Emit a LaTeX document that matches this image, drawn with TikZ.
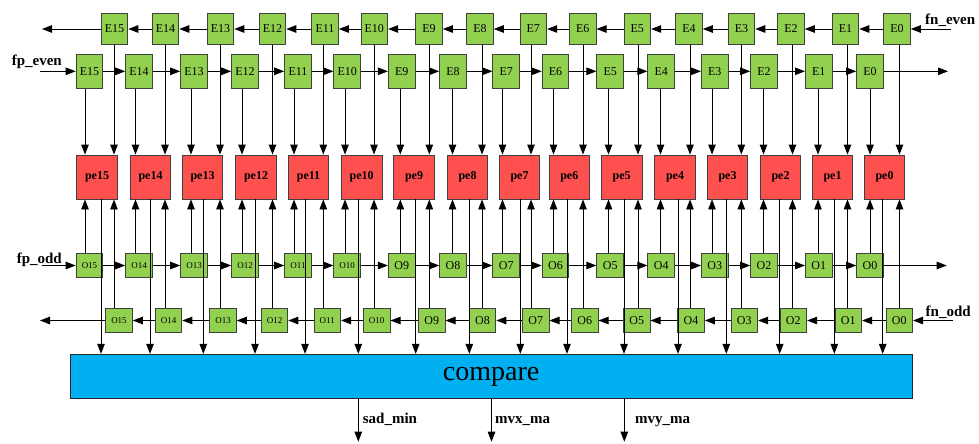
\documentclass[tikz,border=0pt]{standalone}
\usepackage{fontspec}
\setmainfont{Liberation Serif}
\usetikzlibrary{arrows.meta}
\definecolor{boxgreen}{RGB}{146,208,80}
\definecolor{pered}{RGB}{255,80,80}
\definecolor{cmpblue}{RGB}{0,176,240}
\newcommand\olab[1]{\ifnum#1>9 {\fontsize{9}{10}\selectfont O#1}\else O#1\fi}
\begin{document}
\begin{tikzpicture}[x=1pt,y=-1pt,
 ebox/.style={draw=black!75, line width=0.9pt, fill=boxgreen, minimum width=26.7pt, inner sep=0pt, font=\fontsize{12}{14}\selectfont},
 eup/.style={ebox, minimum height=30.7pt},
 elow/.style={ebox, minimum height=34pt},
 obox/.style={ebox, minimum height=24.4pt},
 pebox/.style={draw=black!75, line width=0.9pt, fill=pered, minimum width=40.7pt, minimum height=44pt, inner sep=0pt, font=\fontsize{12}{14}\selectfont\bfseries},
 cmpbox/.style={draw=black!85, line width=0.9pt, fill=cmpblue, minimum width=842.3pt, minimum height=44.4pt, inner sep=0pt, font=\fontsize{28}{30}\selectfont},
 lbl/.style={inner sep=0pt, font=\fontsize{15}{17}\selectfont\bfseries},
 arr/.style={line width=0.9pt, -{Triangle[length=10pt,width=7.5pt]}},
]
\useasboundingbox (0,0) rectangle (979,444);
\foreach \i/\cl/\cu/\cn/\cp/\xl/\xr/\xo in {
 15/89.5/114.5/119/97/85/114/101,
 14/139/165.5/168.5/150.5/135.5/165/150,
 13/194/220.5/223/202.5/191/220/203.3,
 12/245/272.5/274.5/256/242/272.5/255,
 11/298/325/327.3/308.5/294/323.3/305,
 10/347.2/374.3/376.7/361.7/345/374/358.3,
 9/401.7/429/431.7/414/400.3/429.3/415.7,
 8/453/480/482.5/467.5/452.5/482/469.3,
 7/506.2/533.3/535.7/519.5/502.5/531/520.3,
 6/555.5/582.7/584.7/569.3/553.5/583/567,
 5/610.2/637.3/636.7/621.7/608.5/638/624,
 4/661.2/689/691/675/660.5/690/678,
 3/714.8/741.5/744.3/727.5/712/741.3/726.3,
 2/764/791/793.3/780.5/763.5/792.5/779.7,
 1/818.8/845.5/848.3/832.5/818/847.5/834.3,
 0/870/897/899.3/884.5/870/899.5/882.7} {
  \node[eup] (eu\i) at (\cu,29) {E\i};
  \node[elow] (el\i) at (\cl,71.3) {E\i};
  \node[pebox] (pe\i) at (\cp,177) {pe\i};
  \node[obox] (op\i) at (\cl,265.5) {\olab{\i}};
  \node[obox] (on\i) at (\cn,320.5) {\olab{\i}};
  \coordinate (xl\i) at (\xl,0);
  \coordinate (xr\i) at (\xr,0);
  \coordinate (xo\i) at (\xo,0);
}
\node[cmpbox] (cmp) at (491.15,376.5) {compare};
\foreach \i in {0,...,15} {
  \draw[arr] (eu\i.south -| xr\i) -- (pe\i.north -| xr\i);
  \draw[arr] (el\i.south -| xl\i) -- (pe\i.north -| xl\i);
  \draw[arr] (op\i.north -| xl\i) -- (pe\i.south -| xl\i);
  \draw[arr] (on\i.north -| xr\i) -- (pe\i.south -| xr\i);
  \draw[arr] (pe\i.south -| xo\i) -- (cmp.north -| xo\i);
}
\foreach \i [evaluate=\i as \j using int(\i+1)] in {0,...,14} {
  \draw[arr] (eu\i.west) -- (eu\j.east);
  \draw[arr] (el\j.east) -- (el\i.west);
  \draw[arr] (op\j.east) -- (op\i.west);
  \draw[arr] (on\i.west) -- (on\j.east);
}
\coordinate (fnEin) at (950.7,29);
\coordinate (fnEout) at (42,29);
\coordinate (fpEin) at (40,71.3);
\coordinate (fpEout) at (948,71.3);
\coordinate (fpOin) at (41.7,265.5);
\coordinate (fpOout) at (946.7,265.5);
\coordinate (fnOin) at (952.7,320.5);
\coordinate (fnOout) at (40,320.5);
\draw[arr] (fnEin) -- (eu0.east);
\draw[arr] (eu15.west) -- (fnEout);
\draw[arr] (fpEin) -- (el15.west);
\draw[arr] (el0.east) -- (fpEout);
\draw[arr] (fpOin) -- (op15.west);
\draw[arr] (op0.east) -- (fpOout);
\draw[arr] (fnOin) -- (on0.east);
\draw[arr] (on15.west) -- (fnOout);
\node[lbl, anchor=base east] (lfpe) at (62,66) {fp\_even};
\node[lbl, anchor=base west] (lfne) at (925,24.5) {fn\_even};
\node[lbl, anchor=base east] (lfpo) at (62,263.5) {fp\_odd};
\node[lbl, anchor=base west] (lfno) at (925.5,316) {fn\_odd};
\coordinate (osad) at (358.3,441.7);
\coordinate (omvx) at (491.5,441.7);
\coordinate (omvy) at (624.3,441.7);
\draw[arr] (cmp.south -| osad) -- (osad);
\draw[arr] (cmp.south -| omvx) -- (omvx);
\draw[arr] (cmp.south -| omvy) -- (omvy);
\node[lbl, anchor=base west] (lsad) at (362.7,423.3) {sad\_min};
\node[lbl, anchor=base west] (lmvx) at (495,423.3) {mvx\_ma};
\node[lbl, anchor=base west] (lmvy) at (635,423.3) {mvy\_ma};
\end{tikzpicture}
\end{document}
